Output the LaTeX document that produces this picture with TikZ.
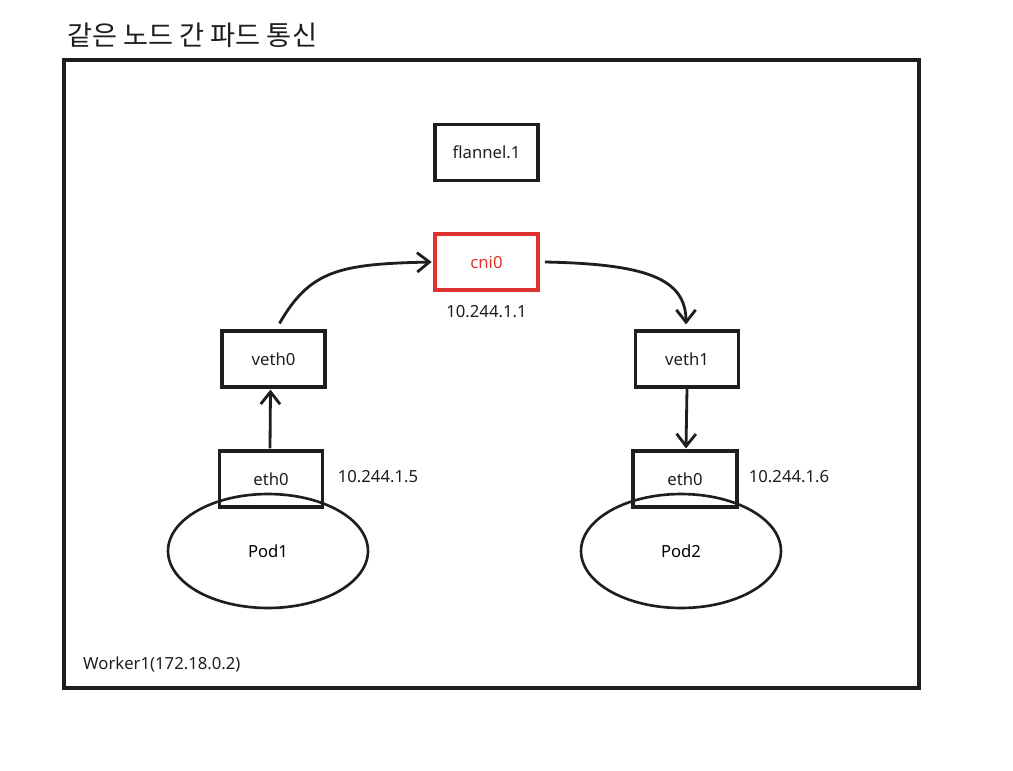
\documentclass[tikz,border=0pt]{standalone}
\usepackage{fontspec}
\setmainfont{Noto Sans}
\newfontfamily\kofont{Noto Sans CJK KR}
\usepackage{tikz}
\usetikzlibrary{shapes.geometric, arrows.meta}
\definecolor{inkBlack}{RGB}{30, 30, 30}
\definecolor{cniRed}{RGB}{224, 49, 49}

\begin{document}
\begin{tikzpicture}[x=0.02cm, y=-0.02cm,
    ifbox/.style={draw=inkBlack, line width=1.8pt, minimum width=2.06cm, minimum height=1.12cm, font=\fontsize{9.5}{11}\selectfont, text=inkBlack},
    podshape/.style={draw=inkBlack, line width=1.5pt, ellipse, minimum width=4cm, minimum height=2.28cm, font=\fontsize{9.5}{11}\selectfont},
    iplabel/.style={font=\fontsize{9.5}{11}\selectfont, text=inkBlack},
    flow/.style={-{Straight Barb[length=7pt, width=11pt]}, line width=1.6pt, draw=inkBlack}]
    \useasboundingbox (0,0) rectangle (1013,770);

    % Title and worker frame
    \node[anchor=west, font=\kofont\fontsize{15.5}{18}\selectfont, text=inkBlack] (title) at (61,35) {같은 노드 간 파드 통신};
    \draw[draw=inkBlack, line width=1.9pt] (64,60) rectangle (919,688);
    \node[anchor=west, iplabel] (worker) at (77,664) {Worker1(172.18.0.2)};

    % Host interfaces
    \node[ifbox] (flannel) at (486.5,152.5) {flannel.1};
    \node[ifbox, draw=cniRed, text=cniRed] (cni) at (486.5,262) {cni0};
    \node[iplabel] (cniip) at (486.5,312) {10.244.1.1};

    % veth pairs
    \node[ifbox] (vetha) at (273.5,359) {veth0};
    \node[ifbox] (vethb) at (687,359) {veth1};

    % Pods
    \node[podshape] (poda) at (268,551) {Pod1};
    \node[podshape] (podb) at (681,551) {Pod2};
    \node[ifbox] (etha) at (271,479) {eth0};
    \node[ifbox, minimum width=2.08cm] (ethb) at (685,479) {eth0};
    \node[iplabel] (ipa) at (378,477) {10.244.1.5};
    \node[iplabel] (ipb) at (789,477) {10.244.1.6};

    % Arrows
    \draw[flow] ([shift={(-1,-1)}]etha.north) -- ([shift={(-3,1)}]vetha.south);
    \draw[flow] ([shift={(6,-6)}]vetha.north) .. controls (310,270) and (340,264) .. ([xshift=-1pt]cni.west);
    \draw[flow] ([xshift=3pt]cni.east) .. controls (645,264) and (686,278) .. ([shift={(-1,-5)}]vethb.north);
    \draw[flow] (vethb.south) -- ([shift={(1,-1)}]ethb.north);
\end{tikzpicture}
\end{document}
